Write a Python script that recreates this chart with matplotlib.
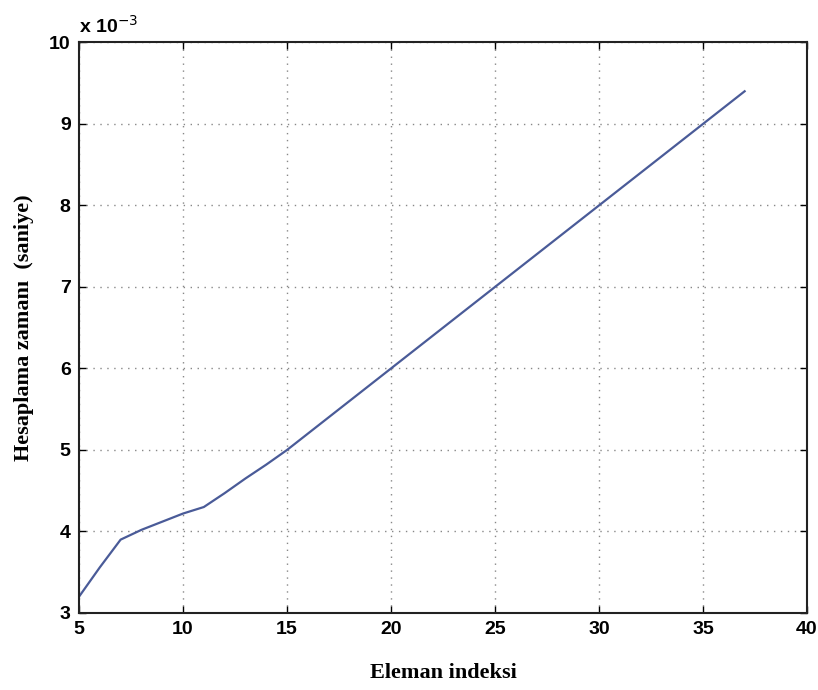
import matplotlib
matplotlib.use("Agg")
import matplotlib.pyplot as plt
import numpy as np

# data (time in units of 1e-3 s)
eleman = [5, 6, 7, 8, 9, 10, 11, 12, 13, 14, 15, 20, 25, 30, 35, 37]
zaman = [3.2, 3.56, 3.9, 4.02, 4.12, 4.22, 4.3, 4.47, 4.65, 4.82, 5.0,
         6.0, 7.0, 8.0, 9.0, 9.4]
x_ticks = [5, 10, 15, 20, 25, 30, 35, 40]
y_ticks = [3, 4, 5, 6, 7, 8, 9, 10]

fig = plt.figure(figsize=(8.18, 6.9), dpi=100)
ax = fig.add_axes([0.0966, 0.1116, 0.8900, 0.8270])

ax.plot(eleman, zaman, color="#4a5b98", linewidth=1.6)

ax.set_xlim(5, 40)
ax.set_ylim(3, 10)
ax.set_xticks(x_ticks)
ax.set_yticks(y_ticks)

ax.grid(True, linestyle=(0, (1, 4)), color="#888888", linewidth=1.0)
ax.tick_params(direction="in", length=5, width=1, top=True, right=True,
               labelsize=14, pad=6)
for lbl in ax.get_xticklabels() + ax.get_yticklabels():
    lbl.set_fontweight("bold")
    lbl.set_family("Liberation Sans")
for sp in ax.spines.values():
    sp.set_linewidth(1.5)
    sp.set_color("#222222")

ax.text(0.0, 1.01, r"x 10$^{-3}$", transform=ax.transAxes, fontsize=14,
        fontweight="bold", family="Liberation Sans", va="bottom", ha="left")

ax.set_xlabel("Eleman indeksi", family="Liberation Serif", fontweight="bold",
              fontsize=16, labelpad=18)
ax.set_ylabel("Hesaplama zamanı  (saniye)", family="Liberation Serif",
              fontweight="bold", fontsize=16, labelpad=11)

fig.savefig("out.png", dpi=100)
